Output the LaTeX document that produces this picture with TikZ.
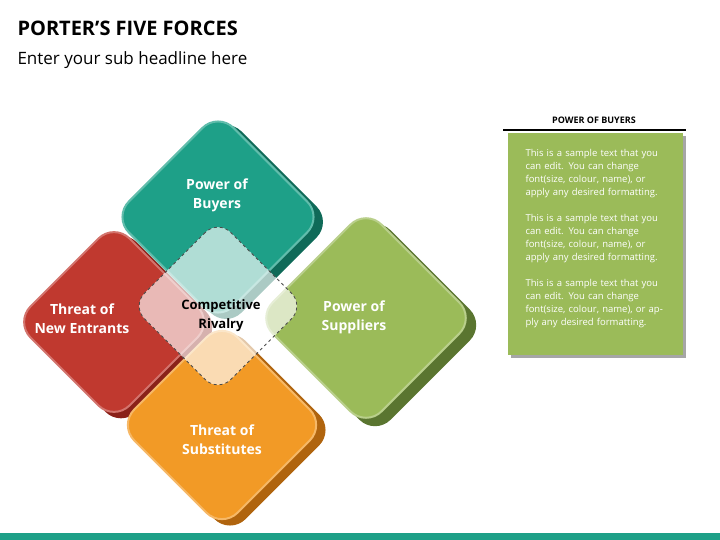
\documentclass[tikz,border=0pt]{standalone}
\usepackage{fontspec}
\setmainfont{Open Sans}
\usetikzlibrary{positioning}
\definecolor{tealF}{HTML}{1EA088}
\definecolor{tealS}{HTML}{0F6A58}
\definecolor{redF}{HTML}{C0392F}
\definecolor{redS}{HTML}{8A2119}
\definecolor{greenF}{HTML}{9BBB59}
\definecolor{greenS}{HTML}{5A7530}
\definecolor{orangeF}{HTML}{F29A26}
\definecolor{orangeS}{HTML}{B0640E}
\tikzset{
  face/.style={rectangle, rotate=45, rounded corners=22pt, minimum size=#1, inner sep=0pt},
  label/.style={text=white, font=\bfseries\fontsize{14}{19}\selectfont, align=center},
  body/.style={text=white, font=\fontsize{9.5}{13}\selectfont, align=left, text width=142pt}
}
\begin{document}
\begin{tikzpicture}[x=1pt,y=-1pt]
	\useasboundingbox (0,0) rectangle (720,540);
	
	% title
	\node[anchor=west, font=\bfseries\fontsize{20}{24}\selectfont] (title) at (14,28) {PORTER’S FIVE FORCES};
	\node[anchor=west, font=\fontsize{17}{20}\selectfont] (sub) at (14,60) {Enter your sub headline here};
	\fill[tealF] (0,533) rectangle (720,540);
	
	% Threat of new entrants
	\node[face=142pt, fill=redS] (redS) at (121,327) {};
	\node[face=140pt, fill=redF, draw=redF!70!white, line width=2pt] (red) at (114,322) {};
	\node[label] (redT) at (82,319) {Threat of\\New Entrants};
	
	% Power of buyers
	\node[face=150pt, fill=tealS] (tealS) at (226,222) {};
	\node[face=148pt, fill=tealF, draw=tealF!70!white, line width=2pt] (teal) at (218,217) {};
	\node[label] (tealT) at (217,195) {Power of\\Buyers};
	
	% Power of suppliers
	\node[face=156pt, fill=greenS] (greenS) at (375,325) {};
	\node[face=154pt, fill=greenF, draw=greenF!70!white, line width=2pt] (green) at (366,318) {};
	\node[label] (greenT) at (354,317) {Power of\\Suppliers};
	
	% Threat of substitutes
	\node[face=148pt, fill=orangeS] (orangeS) at (230,430) {};
	\node[face=146pt, fill=orangeF, draw=orangeF!70!white, line width=2pt] (orange) at (222,425) {};
	\node[label] (orangeT) at (222,440) {Threat of\\Substitutes};
	
	% Competitive rivalry
	\node[face=122pt, rounded corners=18pt, fill=white, fill opacity=0.65, draw=black!70, dashed, thick] (mid) at (218,306) {};
	\node[text=black, font=\bfseries\fontsize{13}{19}\selectfont, align=center] (midT) at (221,316) {Competitive\\Rivalry};
	
	% side panel
	\node[font=\bfseries\fontsize{9}{11}\selectfont] (head) at (594,120) {POWER OF BUYERS};
	\draw[line width=1.5pt] (503,130) -- (686,130);
	\fill[black!35] (511,136) rectangle (686,358);
	\fill[greenF] (508,133) rectangle (683,355);
	\node[body, anchor=north west] (txt) at (522,146) {\hyphenpenalty=10000\relax This is a sample text that you can edit. You can change font(size, colour, name), or apply any desired formatting.\\[13pt]
	This is a sample text that you can edit. You can change font(size, colour, name), or apply any desired formatting.\\[13pt]
	This is a sample text that you can edit. You can change font(size, colour, name), or apply any desired formatting.};
\end{tikzpicture}
\end{document}
